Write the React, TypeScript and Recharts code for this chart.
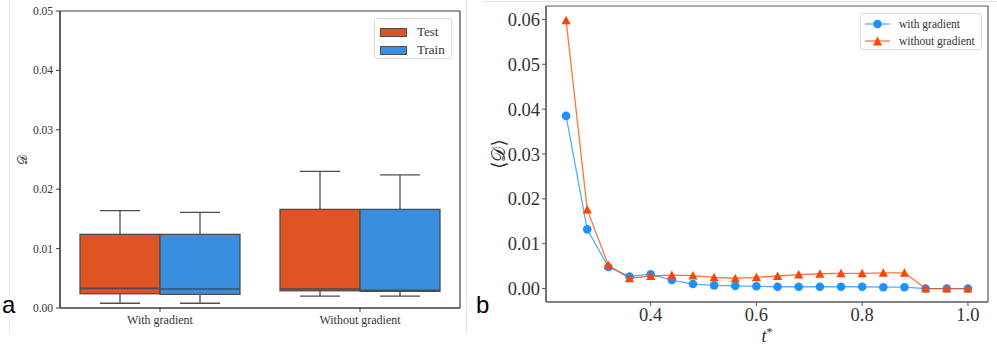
import React from 'react';
import {
  ComposedChart,
  Bar,
  XAxis,
  YAxis,
  CartesianGrid,
  Legend,
  LineChart,
  Line,
  Label,
} from 'recharts';

// ---------- Panel a: box plot data ----------
const categories = ['With gradient', 'Without gradient'];
const testMin = [0.0008, 0.002];
const testQ1 = [0.0024, 0.0029];
const testMedian = [0.0033, 0.0032];
const testQ3 = [0.0124, 0.0166];
const testMax = [0.0164, 0.023];
const trainMin = [0.0008, 0.002];
const trainQ1 = [0.0023, 0.0028];
const trainMedian = [0.0032, 0.003];
const trainQ3 = [0.0124, 0.0166];
const trainMax = [0.0161, 0.0224];
const boxTicks = [0, 0.01, 0.02, 0.03, 0.04, 0.05];

// ---------- Panel b: line data ----------
const tStar = [0.24, 0.28, 0.32, 0.36, 0.4, 0.44, 0.48, 0.52, 0.56, 0.6, 0.64, 0.68, 0.72, 0.76, 0.8, 0.84, 0.88, 0.92, 0.96, 1.0];
const withGradient = [0.0385, 0.0132, 0.0048, 0.0027, 0.0032, 0.0019, 0.001, 0.0007, 0.0006, 0.0005, 0.0004, 0.0004, 0.0004, 0.0004, 0.0004, 0.0003, 0.0003, 0.0, 0.0, 0.0];
const withoutGradient = [0.0598, 0.0176, 0.0052, 0.0023, 0.0028, 0.003, 0.0029, 0.0025, 0.0023, 0.0025, 0.0028, 0.0031, 0.0033, 0.0034, 0.0034, 0.0035, 0.0035, 0.0, 0.0, 0.0];
const lineXTicks = [0.4, 0.6, 0.8, 1.0];
const lineYTicks = [0, 0.01, 0.02, 0.03, 0.04, 0.05, 0.06];

const TEST_COLOR = '#DD5422';
const TRAIN_COLOR = '#3A8EE0';
const EDGE = '#4d4d4d';
const BLUE = '#1E90FF';
const ORANGE = '#FF4500';
const SERIF = '"Liberation Serif", "DejaVu Serif", serif';

const boxData = categories.map((c, i) => ({
  category: c,
  test: [testMin[i], testMax[i]],
  train: [trainMin[i], trainMax[i]],
  testStats: { min: testMin[i], q1: testQ1[i], med: testMedian[i], q3: testQ3[i], max: testMax[i] },
  trainStats: { min: trainMin[i], q1: trainQ1[i], med: trainMedian[i], q3: trainQ3[i], max: trainMax[i] },
}));

const lineData = tStar.map((t, i) => ({ t, withG: withGradient[i], withoutG: withoutGradient[i] }));

const makeBoxShape = (statsKey: string, fill: string) => (props: any) => {
  const { x, y, width, height, payload } = props;
  const s = payload[statsKey];
  const top = Math.min(y, y + height);
  const bottom = Math.max(y, y + height);
  const span = s.max - s.min;
  const py = (v: number) => bottom - ((v - s.min) / span) * (bottom - top);
  const cx = x + width / 2;
  const capHalf = width / 4;
  return (
    <g>
      <line x1={cx} x2={cx} y1={py(s.max)} y2={py(s.q3)} stroke={EDGE} strokeWidth={1.3} />
      <line x1={cx} x2={cx} y1={py(s.q1)} y2={py(s.min)} stroke={EDGE} strokeWidth={1.3} />
      <line x1={cx - capHalf} x2={cx + capHalf} y1={py(s.max)} y2={py(s.max)} stroke={EDGE} strokeWidth={1.3} />
      <line x1={cx - capHalf} x2={cx + capHalf} y1={py(s.min)} y2={py(s.min)} stroke={EDGE} strokeWidth={1.3} />
      <rect x={x} y={py(s.q3)} width={width} height={py(s.q1) - py(s.q3)} fill={fill} stroke={EDGE} strokeWidth={1.3} />
      <line x1={x} x2={x + width} y1={py(s.med)} y2={py(s.med)} stroke={EDGE} strokeWidth={1.6} />
    </g>
  );
};

const frameH = (p: any) => {
  const o = p && p.offset ? p.offset : { top: 0, height: 0 };
  return [o.top, o.top + o.height];
};
const frameV = (p: any) => {
  const o = p && p.offset ? p.offset : { left: 0, width: 0 };
  return [o.left, o.left + o.width];
};

const BoxLegend = (props: any) => {
  const payload = props.payload || [];
  return (
    <div
      style={{
        width: 78,
        height: 41,
        boxSizing: 'border-box',
        border: '1px solid #dcdcdc',
        borderRadius: 3,
        background: 'rgba(255,255,255,0.85)',
        padding: '4px 0 0 5px',
        fontFamily: SERIF,
        fontSize: 13,
        color: '#333',
      }}
    >
      {payload.map((e: any, i: number) => (
        <div key={i} style={{ display: 'flex', alignItems: 'center', height: 18 }}>
          <span
            style={{
              display: 'inline-block',
              width: 27,
              height: 9,
              background: e.color,
              border: `1px solid ${EDGE}`,
              boxSizing: 'border-box',
              marginRight: 10,
            }}
          />
          <span>{e.value}</span>
        </div>
      ))}
    </div>
  );
};

const LineLegend = (props: any) => {
  const payload = props.payload || [];
  return (
    <div
      style={{
        width: 122,
        height: 37,
        boxSizing: 'border-box',
        border: '1px solid #dcdcdc',
        borderRadius: 3,
        background: 'rgba(255,255,255,0.85)',
        padding: '1px 0 0 4px',
        fontFamily: SERIF,
        fontSize: 11.5,
        color: '#333',
      }}
    >
      {payload.map((e: any, i: number) => (
        <div key={i} style={{ display: 'flex', alignItems: 'center', height: 17 }}>
          <svg width={25} height={12} style={{ marginRight: 9 }}>
            <line x1={0} x2={25} y1={6} y2={6} stroke={e.color} strokeOpacity={0.75} strokeWidth={1.3} />
            {i === 0 ? (
              <circle cx={12.5} cy={6} r={4.3} fill={e.color} />
            ) : (
              <polygon points="12.5,1.5 8,10.5 17,10.5" fill={e.color} />
            )}
          </svg>
          <span>{e.value}</span>
        </div>
      ))}
    </div>
  );
};

const circleDot = (p: any) => {
  if (p.cx == null || p.cy == null) return <g key={p.index} />;
  return <circle key={p.index} cx={p.cx} cy={p.cy} r={4.3} fill={BLUE} />;
};
const triangleDot = (p: any) => {
  if (p.cx == null || p.cy == null) return <g key={p.index} />;
  const r = 4.6;
  return (
    <polygon
      key={p.index}
      points={`${p.cx},${p.cy - r} ${p.cx - r},${p.cy + r * 0.85} ${p.cx + r},${p.cy + r * 0.85}`}
      fill={ORANGE}
    />
  );
};

const LeftYLabel = (props: any) => {
  const vb = props.viewBox || { x: 0, y: 0, width: 0, height: 0 };
  const cx = vb.x + 22;
  const cy = vb.y + vb.height / 2;
  return (
    <text x={cx} y={cy} transform={`rotate(-90 ${cx} ${cy})`} textAnchor="middle" dominantBaseline="central" fontSize={13} fill="#444" fontFamily={SERIF}>
      𝒟
    </text>
  );
};

const RightYLabel = (props: any) => {
  const vb = props.viewBox || { x: 0, y: 0, width: 0, height: 0 };
  const cx = vb.x + 28;
  const cy = vb.y + vb.height / 2;
  return (
    <text x={cx} y={cy} transform={`rotate(-90 ${cx} ${cy})`} textAnchor="middle" dominantBaseline="central" fontSize={19} fill="#333" fontFamily={SERIF}>
      ⟨𝒟⟩
    </text>
  );
};

const RightXLabel = (props: any) => {
  const vb = props.viewBox || { x: 0, y: 0, width: 0, height: 0 };
  const cx = vb.x + vb.width / 2;
  const by = vb.y + 40;
  return (
    <text x={cx} y={by} textAnchor="middle" fontSize={18} fill="#333" fontFamily={SERIF}>
      <tspan fontStyle="italic">t</tspan>
      <tspan dy={-6} fontSize={12}>*</tspan>
    </text>
  );
};

export default function App() {
  return (
    <div style={{ position: 'absolute', left: 0, top: 0, width: 997, height: 349, background: '#fff', overflow: 'hidden' }}>
      {/* faint panel borders */}
      <div style={{ position: 'absolute', left: 9, top: 0, width: 1, height: 333, background: '#e8e8e8' }} />
      <div style={{ position: 'absolute', left: 466, top: 0, width: 1, height: 333, background: '#e2e2e2' }} />
      <div style={{ position: 'absolute', left: 482, top: 1, width: 515, height: 1, background: '#e2e2e2' }} />

      {/* Panel a */}
      <div style={{ position: 'absolute', left: 0, top: 0 }}>
        <ComposedChart
          width={470}
          height={349}
          data={boxData}
          margin={{ top: 11, right: 10, left: 0, bottom: 0 }}
          barCategoryGap="10%"
          barGap={0}
        >
          <CartesianGrid
            stroke="#3f3f3f"
            strokeWidth={1.2}
            horizontalCoordinatesGenerator={frameH}
            verticalCoordinatesGenerator={frameV}
          />
          <XAxis
            dataKey="category"
            height={41}
            axisLine={{ stroke: '#3f3f3f', strokeWidth: 1.2 }}
            tickLine={{ stroke: '#3f3f3f' }}
            tickSize={4}
            tickMargin={3}
            tick={{ fontSize: 12, fill: '#333', fontFamily: SERIF }}
          />
          <YAxis
            type="number"
            domain={[0, 0.05]}
            ticks={boxTicks}
            allowDataOverflow
            width={60}
            axisLine={{ stroke: '#3f3f3f', strokeWidth: 1.2 }}
            tickLine={{ stroke: '#3f3f3f' }}
            tickSize={4}
            tickMargin={3}
            tickFormatter={(v: number) => v.toFixed(2)}
            tick={{ fontSize: 11.5, fill: '#333', fontFamily: SERIF }}
          >
            <Label content={LeftYLabel} />
          </YAxis>
          <Legend
            layout="horizontal"
            verticalAlign="middle"
            align="center"
            wrapperStyle={{ position: 'absolute', top: 18, left: 374, width: 78 }}
            content={BoxLegend}
          />
          <Bar dataKey="test" name="Test" fill={TEST_COLOR} isAnimationActive={false} shape={makeBoxShape('testStats', TEST_COLOR)} activeBar={false} />
          <Bar dataKey="train" name="Train" fill={TRAIN_COLOR} isAnimationActive={false} shape={makeBoxShape('trainStats', TRAIN_COLOR)} activeBar={false} />
        </ComposedChart>
      </div>

      {/* Panel b */}
      <div style={{ position: 'absolute', left: 470, top: 0 }}>
        <LineChart width={527} height={349} data={lineData} margin={{ top: 6, right: 9, left: 0, bottom: 0 }}>
          <CartesianGrid
            stroke="#5a5a5a"
            strokeWidth={1.2}
            horizontalCoordinatesGenerator={frameH}
            verticalCoordinatesGenerator={frameV}
          />
          <XAxis
            dataKey="t"
            type="number"
            domain={[0.202, 1.038]}
            ticks={lineXTicks}
            allowDataOverflow
            height={47}
            axisLine={{ stroke: '#5a5a5a', strokeWidth: 1.2 }}
            tickLine={{ stroke: '#5a5a5a' }}
            tickSize={4}
            tickMargin={2}
            tickFormatter={(v: number) => v.toFixed(1)}
            tick={{ fontSize: 18.5, fill: '#333', fontFamily: SERIF }}
          >
            <Label content={RightXLabel} />
          </XAxis>
          <YAxis
            type="number"
            domain={[-0.003, 0.063]}
            ticks={lineYTicks}
            allowDataOverflow
            width={76}
            axisLine={{ stroke: '#5a5a5a', strokeWidth: 1.2 }}
            tickLine={{ stroke: '#5a5a5a' }}
            tickSize={4}
            tickMargin={2}
            tickFormatter={(v: number) => v.toFixed(2)}
            tick={{ fontSize: 18.5, fill: '#333', fontFamily: SERIF }}
          >
            <Label content={RightYLabel} />
          </YAxis>
          <Legend
            layout="horizontal"
            verticalAlign="middle"
            align="center"
            wrapperStyle={{ position: 'absolute', top: 13, left: 390, width: 122 }}
            content={LineLegend}
          />
          <Line
            type="linear"
            dataKey="withG"
            name="with gradient"
            stroke={BLUE}
            strokeOpacity={0.75}
            strokeWidth={1.3}
            dot={circleDot}
            activeDot={false}
            isAnimationActive={false}
          />
          <Line
            type="linear"
            dataKey="withoutG"
            name="without gradient"
            stroke={ORANGE}
            strokeOpacity={0.75}
            strokeWidth={1.3}
            dot={triangleDot}
            activeDot={false}
            isAnimationActive={false}
          />
        </LineChart>
      </div>

      {/* panel letters */}
      <div style={{ position: 'absolute', left: 2, top: 293, fontFamily: '"Liberation Sans", Arial, sans-serif', fontSize: 24, lineHeight: '24px', color: '#000' }}>a</div>
      <div style={{ position: 'absolute', left: 476, top: 293, fontFamily: '"Liberation Sans", Arial, sans-serif', fontSize: 24, lineHeight: '24px', color: '#000' }}>b</div>
    </div>
  );
}
